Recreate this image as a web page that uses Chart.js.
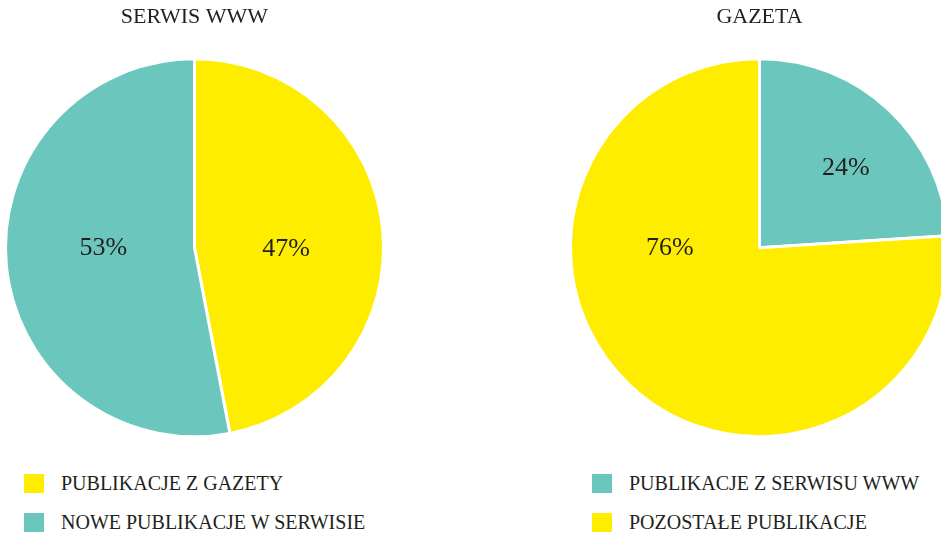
<!DOCTYPE html>
<html>
<head>
<meta charset="utf-8">
<script src="https://cdn.jsdelivr.net/npm/chart.js@4/dist/chart.umd.min.js"></script>
<style>
  html, body { margin: 0; padding: 0; background: #fff; overflow: hidden; }
  body { width: 941px; height: 533px; position: relative; font-family: 'Liberation Serif', 'Times New Roman', serif; color: #231f20; }
  .pie { position: absolute; top: 0; width: 389px; height: 462px; }
  .leg { position: absolute; top: 474px; }
  .leg .row { position: relative; height: 39px; }
  .leg .box { position: absolute; left: 0; top: 0; width: 20px; height: 19px; }
  .leg .txt { position: absolute; left: 37px; top: -3px; font-size: 20px; line-height: 24px; white-space: nowrap; }
</style>
</head>
<body>
<div class="pie" style="left:0"><canvas id="cWww"></canvas></div>
<div class="pie" style="left:565px"><canvas id="cGaz"></canvas></div>
<div class="leg" id="legWww" style="left:24px"></div>
<div class="leg" id="legGaz" style="left:592px"></div>
<script>
/* dane */
const wwwLabels = ['PUBLIKACJE Z GAZETY', 'NOWE PUBLIKACJE W SERWISIE'];
const wwwValues = [47, 53];
const gazLabels = ['PUBLIKACJE Z SERWISU WWW', 'POZOSTAŁE PUBLIKACJE'];
const gazValues = [24, 76];

/* kolory */
const YELLOW = '#ffed00', TEAL = '#6bc7bd', INK = '#231f20';
const wwwColors = [YELLOW, TEAL];
const gazColors = [TEAL, YELLOW];

/* gdzie stoją etykiety %: kąt od góry (st.) i ułamek promienia */
const wwwLabelPos = [{ a: 91, r: 0.485 }, { a: 269.5, r: 0.482 }];
const gazLabelPos = [{ a: 47.4, r: 0.62 }, { a: 269.5, r: 0.475 }];

const pctLabels = {
  id: 'pctLabels',
  afterDatasetsDraw(chart, args, opts) {
    const { ctx } = chart;
    const meta = chart.getDatasetMeta(0);
    const vals = chart.data.datasets[0].data;
    ctx.save();
    ctx.font = '26px "Liberation Serif", serif';
    ctx.fillStyle = INK;
    ctx.textAlign = 'center';
    ctx.textBaseline = 'middle';
    meta.data.forEach((arc, i) => {
      const p = opts.pos[i];
      const rad = p.a * Math.PI / 180;
      const r = arc.outerRadius * p.r;
      ctx.fillText(vals[i] + '%', arc.x + Math.sin(rad) * r, arc.y - Math.cos(rad) * r);
    });
    ctx.restore();
  }
};

function pie(id, title, labels, values, colors, pos) {
  return new Chart(document.getElementById(id), {
    type: 'pie',
    data: { labels, datasets: [{ data: values, backgroundColor: colors, borderColor: '#fff', borderWidth: 3, hoverOffset: 0 }] },
    options: {
      responsive: true, maintainAspectRatio: false, animation: false, events: [],
      radius: 189,
      layout: { padding: 0 },
      plugins: {
        legend: { display: false },
        tooltip: { enabled: false },
        title: { display: true, text: title, color: INK, font: { family: 'Liberation Serif', size: 22, weight: 'normal' }, padding: { top: 4, bottom: 3 } },
        pctLabels: { pos },
      },
    },
    plugins: [pctLabels],
  });
}

function legend(elId, labels, colors) {
  document.getElementById(elId).innerHTML = labels.map((l, i) =>
    `<div class="row"><span class="box" style="background:${colors[i]}"></span><span class="txt">${l}</span></div>`).join('');
}

pie('cWww', 'SERWIS WWW', wwwLabels, wwwValues, wwwColors, wwwLabelPos);
pie('cGaz', 'GAZETA', gazLabels, gazValues, gazColors, gazLabelPos);
legend('legWww', wwwLabels, wwwColors);
legend('legGaz', gazLabels, gazColors);
</script>
</body>
</html>
